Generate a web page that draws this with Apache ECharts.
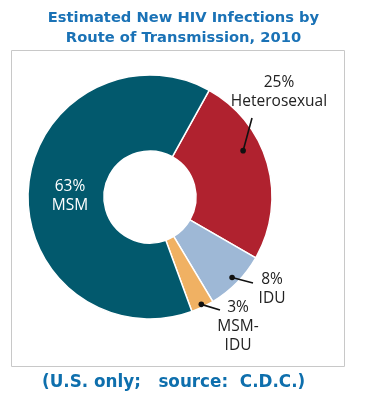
<!DOCTYPE html>
<html><head><meta charset="utf-8">
<script src="https://cdn.jsdelivr.net/npm/echarts@6/dist/echarts.min.js"></script>
<style>html,body{margin:0;padding:0;background:#fff}#c{width:367px;height:396px}</style>
</head><body><div id="c"></div>
<script>
const categories = ['Heterosexual', 'IDU', 'MSM-IDU', 'MSM'];
const values = [25, 8, 3, 63];
const colors = ['#b0222f', '#9eb8d6', '#f0b163', '#02596d'];
const titleLines = ['Estimated New HIV Infections by', 'Route of Transmission, 2010'];
const footnote = '(U.S. only;   source:  C.D.C.)';

// layout (positions only)
const CX = 150, CY = 197, R0 = 46, R1 = 122, START = 61;
const labelPos = { 'Heterosexual': [279, 92], 'IDU': [272, 289], 'MSM-IDU': [238, 327], 'MSM': [70, 196] };
const leader = { 'Heterosexual': { t: 0.38, r: 104, end: [252, 118] },
                 'IDU': { t: 0.5, r: 115, end: [253, 283] },
                 'MSM-IDU': { t: 0.5, r: 119, end: [220, 310] } };

const total = values.reduce((a, b) => a + b, 0);
const graphics = [{
  type: 'rect', shape: { x: 11.5, y: 50.5, width: 333, height: 316 },
  style: { fill: 'none', stroke: '#c8c8c8', lineWidth: 1 }, z: 0
}];
let cum = 0;
values.forEach((v, i) => {
  const name = categories[i];
  const L = leader[name];
  if (L) {
    const frac = (cum + v * L.t) / total;
    const a = (90 - START) * Math.PI / 180 + frac * 2 * Math.PI; // clockwise from up
    const x = CX + L.r * Math.sin(a), y = CY - L.r * Math.cos(a);
    graphics.push({ type: 'line', shape: { x1: x, y1: y, x2: L.end[0], y2: L.end[1] },
      style: { stroke: '#111', lineWidth: 1.6 }, z: 10 });
    graphics.push({ type: 'circle', shape: { cx: x, cy: y, r: 2.8 }, style: { fill: '#111' }, z: 10 });
  }
  cum += v;
});

const chart = echarts.init(document.getElementById('c'), null, { renderer: 'canvas' });
chart.setOption({
  animation: false,
  title: [{
    text: titleLines.join('\n'), left: 'center', top: 3,
    textStyle: { fontFamily: 'DejaVu Sans', fontWeight: 'bold', fontSize: 14.7, color: '#1a72b6', lineHeight: 20 }
  }, {
    text: footnote, left: 37, top: 369,
    textStyle: { fontFamily: 'DejaVu Sans', fontWeight: 'bold', fontSize: 16.8, color: '#0e6fad' }
  }],
  color: colors,
  series: [{
    type: 'pie', center: [CX, CY], radius: [R0, R1], startAngle: START, clockwise: true,
    avoidLabelOverlap: false,
    itemStyle: { borderColor: '#ffffff', borderWidth: 1.5 },
    data: categories.map((c, i) => ({ name: c, value: values[i],
      label: c === 'MSM' ? { color: '#ffffff' } : undefined })),
    label: {
      show: true, position: 'outside', overflow: 'none', alignTo: 'none', bleedMargin: 0,
      formatter: p => p.value + '%\n' + (p.name === 'MSM-IDU' ? 'MSM-\nIDU' : p.name),
      fontFamily: 'Open Sans', fontSize: 15.5, lineHeight: 19, color: '#222', align: 'center'
    },
    labelLine: { show: false },
    labelLayout: p => {
      const name = categories[p.dataIndex];
      const pos = labelPos[name];
      return { x: pos[0], y: pos[1], align: 'center', verticalAlign: 'middle', hideOverlap: false };
    },
    emphasis: { disabled: true }
  }],
  graphic: graphics
});
</script></body></html>
